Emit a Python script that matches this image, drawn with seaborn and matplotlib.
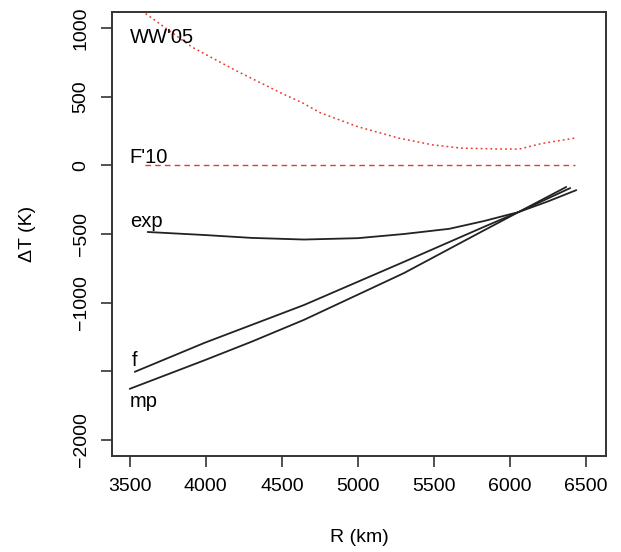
import pandas as pd
import matplotlib
matplotlib.use("Agg")
import matplotlib.pyplot as plt
import seaborn as sns

# Values (R in km, dT in K)
R_ww05 = [3500, 3600, 3910, 4200, 4500, 4640, 4750, 5000, 5270, 5490, 5680, 5920, 6060, 6210, 6430]
T_ww05 = [1190, 1110, 862, 690, 525, 454, 385, 282, 199, 150, 126, 120, 119, 160, 200]

R_f10 = [3600, 6430]
T_f10 = [0, 0]

R_exp = [3618, 3991, 4300, 4646, 5000, 5300, 5600, 5830, 6056, 6250, 6436]
T_exp = [-485, -507, -528, -540, -530, -500, -462, -405, -340, -262, -180]

R_f = [3533, 3991, 4646, 5302, 5826, 6056, 6370]
T_f = [-1504, -1293, -1017, -703, -449, -340, -157]

R_mp = [3500, 3991, 4300, 4646, 5302, 5826, 6056, 6396]
T_mp = [-1628, -1420, -1285, -1125, -785, -475, -340, -165]

labels = ["WW'05", "F'10", "exp", "f", "mp"]
label_x = [3500, 3500, 3500, 3515, 3500]
label_y = [930, 60, -410, -1420, -1720]

x_ticks = [3500, 4000, 4500, 5000, 5500, 6000, 6500]
y_ticks = [-2000, -1500, -1000, -500, 0, 500, 1000]
y_ticklabels = ["\u22122000", "", "\u22121000", "\u2212500", "0", "500", "1000"]

sns.set_style("ticks")
plt.rcParams["font.family"] = ["Liberation Sans", "DejaVu Sans"]

fig = plt.figure(figsize=(6.21, 5.52), dpi=100)
ax = fig.add_axes([0.180, 0.174, 0.796, 0.804])

red = "#e63b30"
sns.lineplot(x=R_ww05, y=T_ww05, ax=ax, color=red, lw=1.1, sort=False,
             linestyle=(0, (1.2, 2.0)))
sns.lineplot(x=R_f10, y=T_f10, ax=ax, color=red, lw=1.0, sort=False,
             linestyle=(0, (4, 3)))
for rr, tt in [(R_exp, T_exp), (R_f, T_f), (R_mp, T_mp)]:
    sns.lineplot(x=rr, y=tt, ax=ax, color="#222222", lw=1.3, sort=False)

for lab, lx, ly in zip(labels, label_x, label_y):
    ax.text(lx, ly, lab, fontsize=14.5, ha="left", va="center", color="black")

ax.set_xlim(3382, 6632)
ax.set_ylim(-2117, 1117)
ax.set_xticks(x_ticks)
ax.set_yticks(y_ticks)
ax.set_yticklabels(y_ticklabels, rotation=90, va="center")
ax.tick_params(axis="both", labelsize=14, length=8, width=1.2,
               color="#333333", labelcolor="black", direction="out", pad=8)

for sp in ax.spines.values():
    sp.set_visible(True)
    sp.set_linewidth(1.4)
    sp.set_color("#333333")

ax.set_xlabel("R (km)", fontsize=14, labelpad=24, color="black")
ax.set_ylabel("\u0394T (K)", fontsize=14, labelpad=26, color="black")

fig.savefig("out.png", dpi=100)
